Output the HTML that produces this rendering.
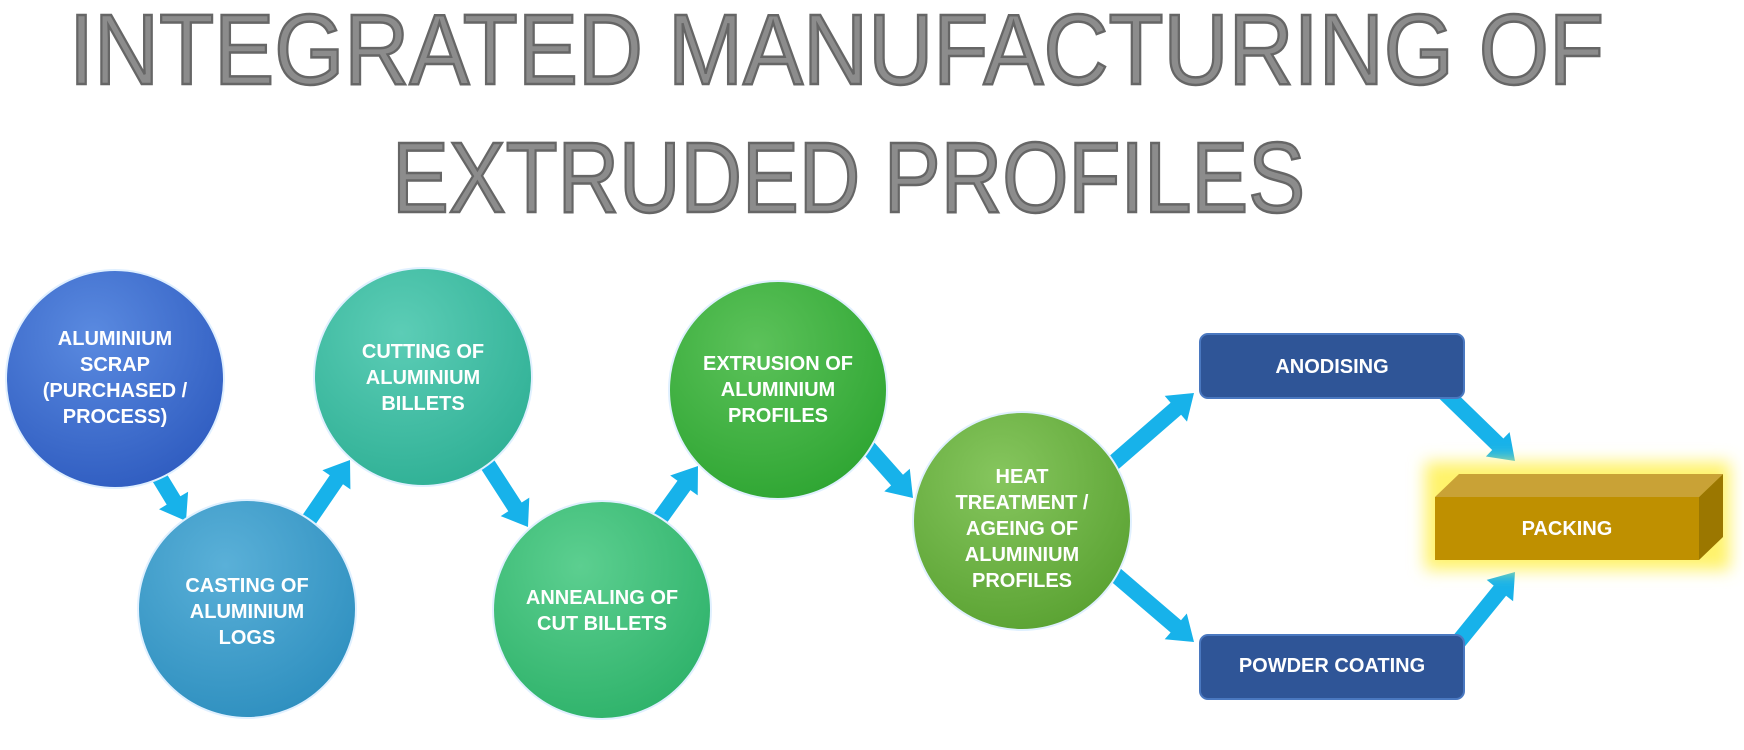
<!DOCTYPE html>
<html><head><meta charset="utf-8"><style>
html,body{margin:0;padding:0;background:#fff;width:1744px;height:750px;overflow:hidden}
svg{display:block}
.t{font-family:"Liberation Sans",sans-serif;font-weight:bold;fill:#fff;font-size:20px;text-anchor:middle}
.h{font-family:"Liberation Sans",sans-serif;fill:#8c8c8c;stroke:#666;stroke-width:2.5;font-size:100px}
</style></head><body>
<svg id="s" width="1744" height="750" viewBox="0 0 1744 750" xmlns="http://www.w3.org/2000/svg">
<defs>
<radialGradient id="g1" cx="40%" cy="30%" r="75%"><stop offset="0" stop-color="#5a8ae0"/><stop offset="1" stop-color="#2f5cc0"/></radialGradient>
<radialGradient id="g2" cx="40%" cy="30%" r="75%"><stop offset="0" stop-color="#5ab0d8"/><stop offset="1" stop-color="#2e8fbf"/></radialGradient>
<radialGradient id="g3" cx="40%" cy="30%" r="75%"><stop offset="0" stop-color="#5ccdb6"/><stop offset="1" stop-color="#2fb095"/></radialGradient>
<radialGradient id="g4" cx="40%" cy="30%" r="75%"><stop offset="0" stop-color="#5ccf90"/><stop offset="1" stop-color="#2eb26a"/></radialGradient>
<radialGradient id="g5" cx="40%" cy="30%" r="75%"><stop offset="0" stop-color="#5cc25a"/><stop offset="1" stop-color="#2ea532"/></radialGradient>
<radialGradient id="g6" cx="40%" cy="30%" r="75%"><stop offset="0" stop-color="#86c65e"/><stop offset="1" stop-color="#5aa232"/></radialGradient>
<filter id="glow" x="-20%" y="-40%" width="140%" height="180%"><feGaussianBlur stdDeviation="8"/></filter>
</defs>
<text class="h" x="69" y="84" textLength="1535" lengthAdjust="spacingAndGlyphs">INTEGRATED MANUFACTURING OF</text>
<text class="h" x="392" y="212" textLength="913" lengthAdjust="spacingAndGlyphs">EXTRUDED PROFILES</text>

<g id="arrows" fill="#17b2ea"></g>

<g stroke="#e0f0ff" stroke-width="2">
<circle cx="115" cy="379" r="109" fill="url(#g1)"/>
<circle cx="247" cy="609" r="109" fill="url(#g2)"/>
<circle cx="423" cy="377" r="109" fill="url(#g3)"/>
<circle cx="602" cy="610" r="109" fill="url(#g4)"/>
<circle cx="778" cy="390" r="109" fill="url(#g5)"/>
<circle cx="1022" cy="521" r="109" fill="url(#g6)"/>
</g>
<text class="t" x="115" y="345">ALUMINIUM</text>
<text class="t" x="115" y="371">SCRAP</text>
<text class="t" x="115" y="397">(PURCHASED /</text>
<text class="t" x="115" y="423">PROCESS)</text>
<text class="t" x="247" y="592">CASTING OF</text>
<text class="t" x="247" y="618">ALUMINIUM</text>
<text class="t" x="247" y="644">LOGS</text>
<text class="t" x="423" y="358">CUTTING OF</text>
<text class="t" x="423" y="384">ALUMINIUM</text>
<text class="t" x="423" y="410">BILLETS</text>
<text class="t" x="602" y="604">ANNEALING OF</text>
<text class="t" x="602" y="630">CUT BILLETS</text>
<text class="t" x="778" y="370">EXTRUSION OF</text>
<text class="t" x="778" y="396">ALUMINIUM</text>
<text class="t" x="778" y="422">PROFILES</text>
<text class="t" x="1022" y="483">HEAT</text>
<text class="t" x="1022" y="509">TREATMENT /</text>
<text class="t" x="1022" y="535">AGEING OF</text>
<text class="t" x="1022" y="561">ALUMINIUM</text>
<text class="t" x="1022" y="587">PROFILES</text>

<rect x="1200" y="334" width="264" height="64" rx="8" fill="#2f5597" stroke="#4a78c0" stroke-width="2"/>
<text class="t" x="1332" y="373">ANODISING</text>
<rect x="1200" y="635" width="264" height="64" rx="8" fill="#2f5597" stroke="#4a78c0" stroke-width="2"/>
<text class="t" x="1332" y="672">POWDER COATING</text>

<rect x="1425" y="462" width="305" height="108" fill="#fff36a" filter="url(#glow)"/>
<polygon points="1435,497 1459,474 1723,474 1699,497" fill="#c9a236"/>
<polygon points="1699,497 1723,474 1723,537 1699,560" fill="#9b7700"/>
<rect x="1435" y="497" width="264" height="63" fill="#bf9000"/>
<text class="t" x="1567" y="535">PACKING</text>
</svg>
<script>
(function(){
var A=[[155,470,186,521],[304,527,350,460],[486,462,528,527],[654,527,698,466],[865,444,913,498],[1110,466,1194,393],[1110,570,1194,642],[1444,392,1515,461],[1455,646,1515,572]];
var g=document.getElementById('arrows'),sw=8,hw=17,hl=24;
A.forEach(function(a){
var dx=a[2]-a[0],dy=a[3]-a[1],L=Math.hypot(dx,dy),ux=dx/L,uy=dy/L,nx=-uy,ny=ux;
var bx=a[2]-ux*hl,by=a[3]-uy*hl;
var p=[[a[0]+nx*sw,a[1]+ny*sw],[bx+nx*sw,by+ny*sw],[bx+nx*hw,by+ny*hw],[a[2],a[3]],[bx-nx*hw,by-ny*hw],[bx-nx*sw,by-ny*sw],[a[0]-nx*sw,a[1]-ny*sw]];
var e=document.createElementNS('http://www.w3.org/2000/svg','polygon');
e.setAttribute('points',p.map(function(q){return q[0].toFixed(1)+','+q[1].toFixed(1)}).join(' '));
g.appendChild(e);
});
})();
</script>
</body></html>
